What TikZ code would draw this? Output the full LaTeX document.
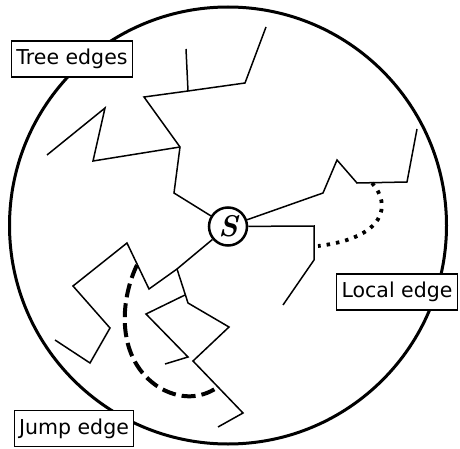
\documentclass[tikz,border=0pt]{standalone}
\usepackage{fontspec}
\setmainfont{DejaVu Sans}
\newfontfamily\lmfont{Latin Modern Roman}
\usepackage{tikz}

\begin{document}
\begin{tikzpicture}[x=1pt, y=-1pt,
    tree/.style={line width=1.5pt},
    lbl/.style={draw, fill=white, line width=1.2pt, inner xsep=5pt, minimum height=36pt,
        font=\fontsize{20.5}{24}\selectfont},
    jump/.style={line width=4pt, dash pattern=on 14pt off 6pt},
    local/.style={line width=3.8pt, dash pattern=on 3.5pt off 6pt}]

    \useasboundingbox (0,0) rectangle (460,449);

    % Ball around the source
    \draw[line width=3pt] (228,225.5) circle (218.5);

    % Source
    \node[circle, draw, fill=white, line width=2.5pt, minimum size=38pt, inner sep=0pt,
        font=\lmfont\bfseries\itshape\fontsize{30}{32}\selectfont] (S) at (228,226.5) {S};

    % Upper left tree
    \coordinate (u1) at (180,147);
    \coordinate (u2) at (188,91);
    \draw[tree] (S) -- (174,193) -- (u1) -- (144,97) -- (u2) -- (245,83) -- (266,27);
    \draw[tree] (u1) -- (93,161) -- (105,108) -- (47,155);
    \draw[tree] (u2) -- (186,49);

    % Right tree
    \coordinate (r1) at (372,183);
    \draw[tree] (S) -- (323,193) -- (337,160) -- (357,183) -- (407,182) -- (417,129);
    \draw[tree] (S) -- (314,226) -- (314,260) -- (283,305);

    % Lower tree
    \coordinate (l1) at (177,269);
    \coordinate (l2) at (185,295);
    \coordinate (l3) at (137,265);
    \coordinate (l4) at (218,387);
    \draw[tree] (S) -- (l1) -- (149,289) -- (127,243) -- (73,286) -- (110,328) -- (90,363) -- (55,340);
    \draw[tree] (l1) -- (188,303) -- (229,327) -- (193,361) -- (243,413) -- (218,427);
    \draw[tree] (l2) -- (146,314) -- (188,357) -- (165,364);

    % Local edge
    \coordinate (r2) at (318,246);
    \draw[local] (r1) .. controls (392,205) and (385,238) .. (r2);

    % Jump edge
    \draw[jump] (l3) .. controls (120,300) and (115,360) .. (160,388)
        .. controls (185,402) and (205,396) .. (l4);

    % Labels
    \node[lbl] (treelbl) at (72,59) {Tree edges};
    \node[lbl] (locallbl) at (397,292) {Local edge};
    \node[lbl] (jumplbl) at (74,428.5) {Jump edge};
\end{tikzpicture}
\end{document}
